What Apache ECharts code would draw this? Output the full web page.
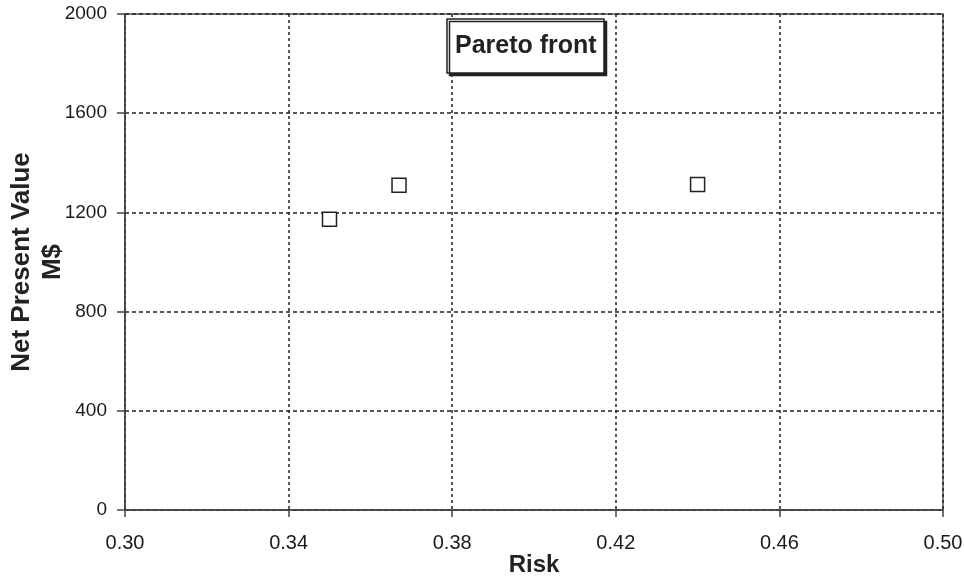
<!DOCTYPE html>
<html>
<head>
<meta charset="utf-8">
<script src="https://cdn.jsdelivr.net/npm/echarts@6/dist/echarts.min.js"></script>
<style>
html,body{margin:0;padding:0;background:#fff;}
#chart{width:964px;height:579px;}
</style>
</head>
<body>
<div id="chart"></div>
<script>
var risk = [0.35, 0.367, 0.44];
var npv = [1172, 1309, 1313];
var seriesName = 'Pareto front';
var xTitle = 'Risk';
var yTitle = 'Net Present Value\nM$';

var FONT = '"Liberation Sans", Arial, sans-serif';
var pts = risk.map(function (r, i) { return [r, npv[i]]; });

var chart = echarts.init(document.getElementById('chart'));
chart.setOption({
  backgroundColor: '#fff',
  animation: false,
  title: {
    text: seriesName,
    left: 447,
    top: 19,
    padding: [14, 8, 14, 8],
    borderColor: '#222',
    borderWidth: 1.5,
    backgroundColor: '#fff',
    shadowColor: '#222',
    shadowOffsetX: 2.5,
    shadowOffsetY: 2.5,
    shadowBlur: 0,
    textStyle: { fontFamily: FONT, fontSize: 25, fontWeight: 'bold', color: '#222', lineHeight: 26 }
  },
  grid: {
    left: 125, right: 21, top: 14, bottom: 69,
    containLabel: false,
    outerBoundsMode: 'none',
    show: true, borderColor: '#555', borderWidth: 1.5, backgroundColor: 'transparent'
  },
  xAxis: {
    type: 'value',
    min: 0.30, max: 0.50, interval: 0.04,
    name: xTitle,
    nameLocation: 'middle',
    nameGap: 43,
    nameMoveOverlap: false,
    nameTextStyle: { fontFamily: FONT, fontSize: 24, fontWeight: 'bold', color: '#222' },
    axisLine: { show: true, lineStyle: { color: '#444', width: 1.5 } },
    axisTick: { show: true, length: 7, lineStyle: { color: '#444', width: 1.5 } },
    axisLabel: {
      margin: 23,
      fontFamily: FONT, fontSize: 20, color: '#1a1a1a',
      formatter: function (v) { return v.toFixed(2); }
    },
    splitLine: { show: true, lineStyle: { color: '#222', width: 1.5, type: [3, 3] } }
  },
  yAxis: {
    type: 'value',
    min: 0, max: 2000, interval: 400,
    name: yTitle,
    nameLocation: 'middle',
    nameRotate: 90,
    nameGap: 57,
    nameMoveOverlap: false,
    nameTextStyle: { fontFamily: FONT, fontSize: 26, fontWeight: 'bold', color: '#222', lineHeight: 31 },
    axisLine: { show: true, lineStyle: { color: '#444', width: 1.5 } },
    axisTick: { show: true, length: 8, lineStyle: { color: '#444', width: 1.5 } },
    axisLabel: {
      margin: 18, fontFamily: FONT, fontSize: 19, color: '#1a1a1a',
      formatter: function (v) { return String(v); }
    },
    splitLine: { show: true, lineStyle: { color: '#222', width: 1.5, type: [4, 3] } }
  },
  series: [{
    name: seriesName,
    type: 'scatter',
    data: pts,
    symbol: 'rect',
    symbolSize: 14,
    itemStyle: { color: '#fff', borderColor: '#222', borderWidth: 1.5, opacity: 1 }
  }]
});
</script>
</body>
</html>
